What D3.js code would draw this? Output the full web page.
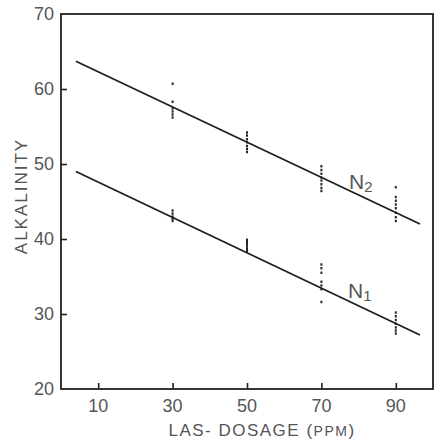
<!DOCTYPE html>
<html>
<head>
<meta charset="utf-8">
<script src="https://cdnjs.cloudflare.com/ajax/libs/d3/7.8.5/d3.min.js"></script>
<style>
	body { margin: 0; background: #fff; }
	text { font-family: "Liberation Sans", Arial, sans-serif; fill: #555; }
</style>
</head>
<body>
<div id="chart"></div>
<script>
// x ticks and y ticks
var xTicks = [10, 30, 50, 70, 90];
var yTicks = [20, 30, 40, 50, 60, 70];

// measured points, one column per dosage
var dosages = [30, 50, 70, 90];
var n2Values = [
	[60.7, 58.3, 57.4, 57.0, 56.6, 56.2],
	[54.2, 53.8, 53.3, 52.9, 52.4, 52.0, 51.6],
	[49.7, 49.2, 48.7, 48.2, 47.8, 47.3, 46.8, 46.4],
	[46.9, 45.6, 45.1, 44.6, 44.1, 43.5, 42.9, 42.4]
];
var n1Values = [
	[43.8, 43.4, 43.0, 42.7, 42.4],
	[39.9, 39.6, 39.3, 39.0, 38.7, 38.4],
	[36.6, 36.1, 35.5, 34.3, 33.8, 33.3, 31.6],
	[30.2, 29.7, 29.2, 28.7, 28.2, 27.8, 27.4]
];

// fitted lines (start and end)
var n2Line = [[4, 63.7], [96.5, 42.0]];
var n1Line = [[4, 49.0], [96.5, 27.2]];

var width = 441, height = 445;
var margin = { left: 61, right: 8, top: 14, bottom: 56 };

var svg = d3.select("#chart").append("svg")
	.attr("width", width)
	.attr("height", height);

var x = d3.scaleLinear().domain([0, 100]).range([margin.left, width - margin.right]);
var y = d3.scaleLinear().domain([20, 70]).range([height - margin.bottom, margin.top]);

// ticks point into the plot
var xAxis = d3.axisTop(x).tickValues(xTicks).tickSize(6).tickFormat("");
var yAxis = d3.axisRight(y).tickValues(yTicks.slice(1, -1)).tickSize(6).tickFormat("");

svg.append("g")
	.attr("transform", "translate(0," + y(20) + ")")
	.call(xAxis)
	.call(function (g) { g.select(".domain").remove(); })
	.selectAll("line").attr("stroke", "#222").attr("stroke-width", 1.6);

svg.append("g")
	.attr("transform", "translate(" + x(0) + ",0)")
	.call(yAxis)
	.call(function (g) { g.select(".domain").remove(); })
	.selectAll("line").attr("stroke", "#222").attr("stroke-width", 1.6);

// frame
svg.append("rect")
	.attr("x", x(0))
	.attr("y", y(70))
	.attr("width", x(100) - x(0))
	.attr("height", y(20) - y(70))
	.attr("fill", "none")
	.attr("stroke", "#222")
	.attr("stroke-width", 1.8);

// tick labels
svg.append("g").selectAll("text")
	.data(xTicks)
	.enter().append("text")
	.attr("x", function (d) { return x(d); })
	.attr("y", y(20) + 23)
	.attr("text-anchor", "middle")
	.style("font-size", "18px")
	.text(function (d) { return d; });

svg.append("g").selectAll("text")
	.data(yTicks)
	.enter().append("text")
	.attr("x", x(0) - 7)
	.attr("y", function (d) { return y(d) + 6; })
	.attr("text-anchor", "end")
	.style("font-size", "18px")
	.text(function (d) { return d; });

// axis titles
svg.append("text")
	.attr("x", 262)
	.attr("y", 436)
	.attr("text-anchor", "middle")
	.style("font-size", "17px")
	.style("letter-spacing", "1.5px")
	.text("LAS- DOSAGE (")
	.append("tspan").style("font-size", "14px").text("PPM")
	.select(function () { return this.parentNode; })
	.append("tspan").text(")");

svg.append("text")
	.attr("transform", "translate(27," + 196 + ") rotate(-90)")
	.attr("text-anchor", "middle")
	.style("font-size", "17px")
	.style("letter-spacing", "2px")
	.text("ALKALINITY");

// fitted lines
var line = d3.line()
	.x(function (d) { return x(d[0]); })
	.y(function (d) { return y(d[1]); });

[n2Line, n1Line].forEach(function (l) {
	svg.append("path")
		.attr("d", line(l))
		.attr("fill", "none")
		.attr("stroke", "#1e1e1e")
		.attr("stroke-width", 1.8);
});

// points
function drawPoints(values) {
	values.forEach(function (col, i) {
		svg.append("g").selectAll("rect")
			.data(col)
			.enter().append("rect")
			.attr("x", x(dosages[i]) - 1)
			.attr("y", function (d) { return y(d) - 1.2; })
			.attr("width", 2)
			.attr("height", 2.4)
			.attr("fill", "#222");
	});
}
drawPoints(n2Values);
drawPoints(n1Values);

// series labels
function seriesLabel(px, py, sub) {
	var t = svg.append("text")
		.attr("x", px)
		.attr("y", py)
		.style("font-size", "21px")
		.text("N");
	t.append("tspan")
		.attr("dy", 3)
		.style("font-size", "15px")
		.text(sub);
}
seriesLabel(349, 189, "2");
seriesLabel(348, 298, "1");
</script>
</body>
</html>
